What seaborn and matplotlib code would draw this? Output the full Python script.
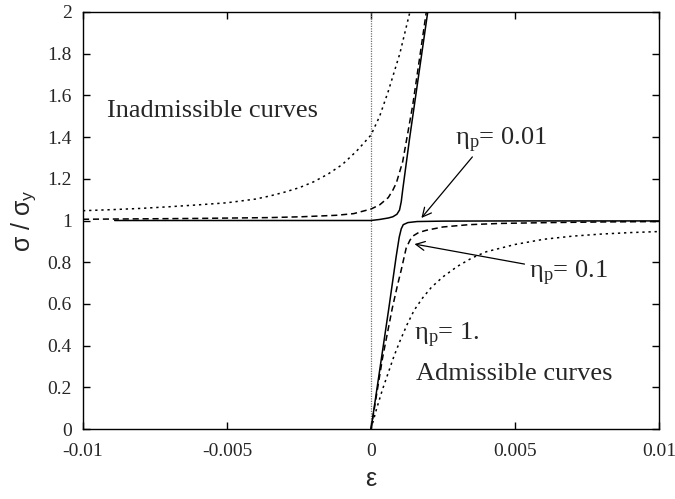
import matplotlib
matplotlib.use("Agg")
import matplotlib.pyplot as plt
import seaborn as sns
import pandas as pd

# ---- data ----
# admissible curves (start at origin)
adm_001_x = [0, 0.00062, 0.000875, 0.00098, 0.00105, 0.00112, 0.00128, 0.0016, 0.0025, 0.005, 0.01]
adm_001_y = [0, 0.58, 0.828, 0.92, 0.96, 0.98, 0.99, 0.995, 0.997, 0.998, 0.998]
adm_01_x = [0, 0.0004, 0.00074, 0.00092, 0.00105, 0.00122, 0.00135, 0.00145, 0.00165, 0.00192,
            0.0025, 0.0034, 0.0045, 0.0062, 0.008, 0.01]
adm_01_y = [0, 0.34, 0.58, 0.69, 0.763, 0.867, 0.905, 0.925, 0.942, 0.953,
            0.969, 0.98, 0.986, 0.99, 0.993, 0.995]
adm_1_x = [0, 0.0002, 0.0004, 0.0006, 0.0008, 0.001, 0.00125, 0.0015, 0.0018, 0.0021, 0.0025,
           0.003, 0.0035, 0.004, 0.005, 0.006, 0.007, 0.008, 0.009, 0.01]
adm_1_y = [0, 0.1, 0.19, 0.27, 0.35, 0.42, 0.5, 0.57, 0.63, 0.68, 0.73,
           0.78, 0.82, 0.85, 0.885, 0.91, 0.925, 0.935, 0.942, 0.947]
# inadmissible curves
inad_001_x = [-0.0089, 0, 0.0003, 0.0006, 0.00076, 0.0009, 0.00099, 0.00105, 0.0011, 0.00134, 0.00197]
inad_001_y = [1.0, 1.0, 1.005, 1.012, 1.018, 1.03, 1.05, 1.09, 1.146, 1.394, 2.0]
inad_01_x = [-0.01, -0.006, -0.0035, -0.0024, -0.0012, -0.0006, 0, 0.0003, 0.0006, 0.00076, 0.00088,
             0.0011, 0.00145, 0.00192]
inad_01_y = [1.006, 1.01, 1.014, 1.018, 1.025, 1.033, 1.055, 1.075, 1.11, 1.146, 1.18,
             1.282, 1.554, 2.0]
inad_1_x = [-0.01, -0.009, -0.008, -0.007, -0.006, -0.005, -0.004, -0.0035, -0.003, -0.0025,
            -0.002, -0.0015, -0.001, -0.0005, 0, 0.0003, 0.0006, 0.001, 0.00135]
inad_1_y = [1.047, 1.052, 1.058, 1.066, 1.075, 1.085, 1.103, 1.118, 1.136, 1.157,
            1.185, 1.222, 1.268, 1.333, 1.41, 1.50, 1.62, 1.80, 2.0]

x_ticks = [-0.01, -0.005, 0, 0.005, 0.01]
x_tick_labels = ['-0.01', '-0.005', '0', '0.005', '0.01']
y_ticks = [0, 0.2, 0.4, 0.6, 0.8, 1.0, 1.2, 1.4, 1.6, 1.8, 2.0]
y_tick_labels = ['0', '0.2', '0.4', '0.6', '0.8', '1', '1.2', '1.4', '1.6', '1.8', '2']

sns.set_style("ticks")
plt.rcParams['font.family'] = ['Liberation Serif', 'DejaVu Serif']
plt.rcParams['mathtext.fontset'] = 'custom'
plt.rcParams['mathtext.rm'] = 'Liberation Serif'
plt.rcParams['mathtext.it'] = 'Liberation Serif:italic'
plt.rcParams['mathtext.sf'] = 'Liberation Sans'

fig = plt.figure(figsize=(6.75, 4.99), dpi=100)
ax = fig.add_axes([83/675, 1 - 429/499, (659 - 83)/675, (429 - 12)/499])

ax.axvline(0, color='0.45', lw=0.9, dashes=(1, 1), zorder=1)

styles = [
    (adm_001_x, adm_001_y, dict(linestyle='-')),
    (adm_01_x, adm_01_y, dict(dashes=(4, 2.5))),
    (adm_1_x, adm_1_y, dict(dashes=(1.5, 2.5))),
    (inad_001_x, inad_001_y, dict(linestyle='-')),
    (inad_01_x, inad_01_y, dict(dashes=(4, 2.5))),
    (inad_1_x, inad_1_y, dict(dashes=(1.5, 2.5))),
]
for xs, ys, st in styles:
    df = pd.DataFrame({'x': xs, 'y': ys})
    sns.lineplot(data=df, x='x', y='y', ax=ax, sort=False, estimator=None,
                 color='black', lw=1.1, **st)

ax.set_xlim(-0.01, 0.01)
ax.set_ylim(0, 2)
ax.set_xticks(x_ticks)
ax.set_xticklabels(x_tick_labels)
ax.set_yticks(y_ticks)
ax.set_yticklabels(y_tick_labels)
ax.tick_params(direction='in', length=5, width=1, top=True, right=True,
               labelsize=14, color='black')
ax.tick_params(axis='x', pad=10)
ax.tick_params(axis='y', pad=8)
for s in ax.spines.values():
    s.set_linewidth(1.0)
    s.set_color('black')

ax.set_xlabel('ε', family=['Liberation Sans', 'DejaVu Sans'], fontsize=18, labelpad=5)
ax.set_ylabel(r'σ / σ$_\mathsf{y}$', family=['Liberation Sans', 'DejaVu Sans'], fontsize=18, labelpad=6)

fs = 19
ax.text(-0.00918, 1.496, 'Inadmissible curves', fontsize=fs, ha='left', va='baseline')
ax.text(0.00155, 0.235, 'Admissible curves', fontsize=fs, ha='left', va='baseline')
ax.text(0.0029, 1.362, r'η$_\mathrm{p}$= 0.01', fontsize=fs, ha='left', va='baseline')
ax.text(0.0055, 0.724, r'η$_\mathrm{p}$= 0.1', fontsize=fs, ha='left', va='baseline')
ax.text(0.00151, 0.427, r'η$_\mathrm{p}$= 1.', fontsize=fs, ha='left', va='baseline')

arrow = dict(arrowstyle='->', color='black', lw=0.9, shrinkA=0, shrinkB=0,
             mutation_scale=16)
ax.annotate('', xy=(0.00175, 1.012), xytext=(0.00352, 1.305), arrowprops=arrow)
ax.annotate('', xy=(0.00151, 0.887), xytext=(0.00533, 0.791), arrowprops=arrow)

fig.savefig('out.png', dpi=100)
